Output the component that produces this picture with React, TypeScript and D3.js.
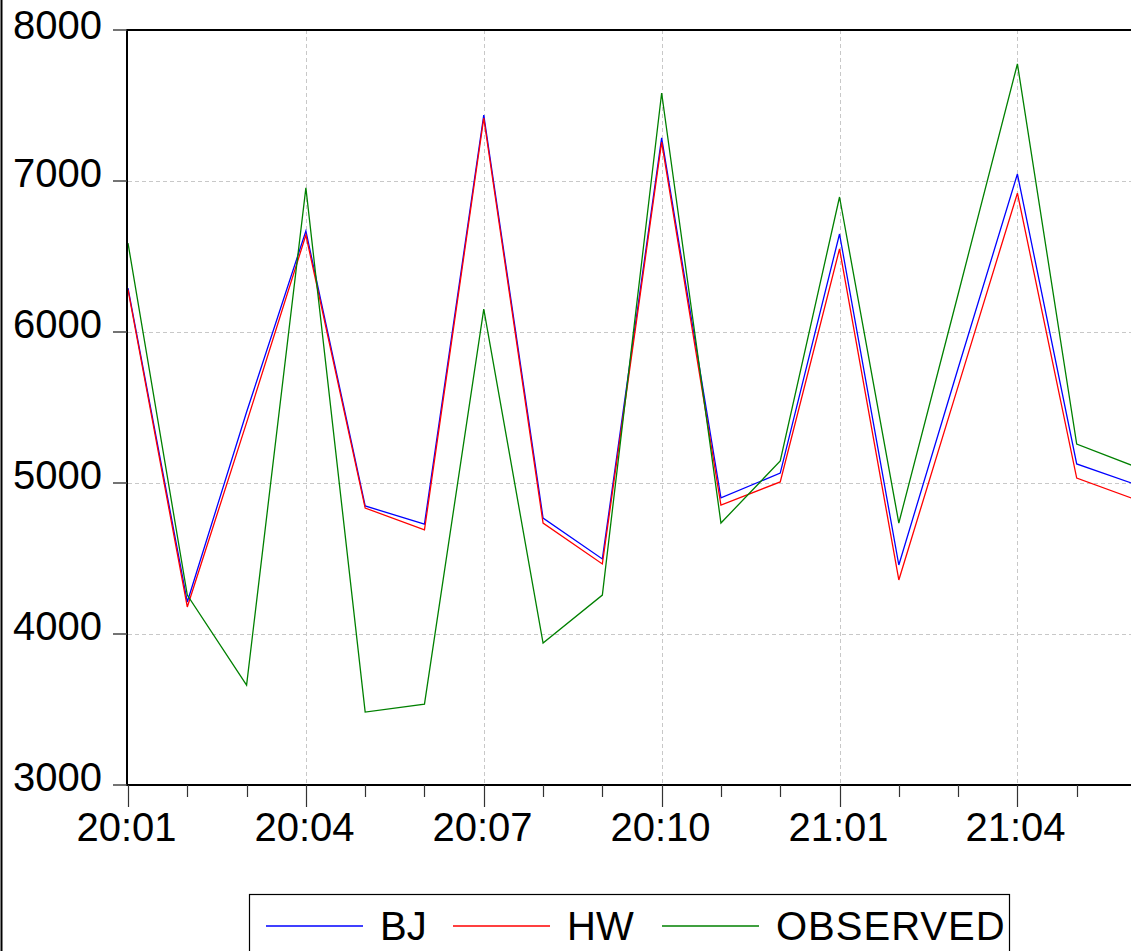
import React from 'react';
import * as d3 from 'd3';

const periods = [
  '20:01', '20:02', '20:03', '20:04', '20:05', '20:06', '20:07', '20:08', '20:09',
  '20:10', '20:11', '20:12', '21:01', '21:02', '21:03', '21:04', '21:05', '21:06',
];
const bj = [6291, 4212, 5470, 6669, 4848, 4728, 7437, 4768, 4497, 7285, 4901, 5066, 6649, 4457, 5760, 7046, 5126, 4989];
const hw = [6280, 4179, 5400, 6642, 4834, 4689, 7417, 4735, 4464, 7258, 4854, 5007, 6550, 4358, 5640, 6920, 5033, 4889];
const observed = [6589, 4258, 3662, 6954, 3483, 3536, 6152, 3940, 4258, 7583, 4735, 5146, 6894, 4735, 6250, 7775, 5258, 5106];
const yTicks = [3000, 4000, 5000, 6000, 7000, 8000];
const labelledPeriods = ['20:01', '20:04', '20:07', '20:10', '21:01', '21:04'];

const series = [
  { name: 'BJ', values: bj, color: '#0000ff' },
  { name: 'HW', values: hw, color: '#ff0000' },
  { name: 'OBSERVED', values: observed, color: '#008000' },
];

const W = 1131;
const H = 951;
const FONT = '"Liberation Sans", Arial, sans-serif';

export default function App() {
  const left = 128;
  const right = 1136;
  const top = 30;
  const bottom = 785;

  const x = d3.scalePoint<string>().domain(periods).range([left, right]);
  const y = d3.scaleLinear().domain([3000, 8000]).range([bottom, top]);

  const line = d3
    .line<number>()
    .x((_, i) => x(periods[i]) as number)
    .y((d) => y(d));

  // legend layout (line start, text start)
  const legendItems = [
    { lx: 266, tx: 380 },
    { lx: 453, tx: 567 },
    { lx: 662, tx: 776 },
  ];

  return (
    <div style={{ position: 'absolute', left: 0, top: 0 }}>
      <svg width={W} height={H} style={{ display: 'block', background: '#fff' }}>
        <defs>
          <clipPath id="plot">
            <rect x={left - 1} y={top} width={W - left + 20} height={bottom - top} />
          </clipPath>
        </defs>
        <rect x={0} y={0} width={W} height={H} fill="#fff" />
        <line x1={1.5} x2={1.5} y1={0} y2={H} stroke="#000" strokeWidth={2} />

        {/* grid */}
        <g stroke="#c8c8c8" strokeWidth={1} strokeDasharray="4,3">
          {yTicks
            .filter((t) => t !== 3000 && t !== 8000)
            .map((t) => (
              <line key={t} x1={left} x2={W} y1={Math.round(y(t)) + 0.5} y2={Math.round(y(t)) + 0.5} />
            ))}
          {labelledPeriods.slice(1).map((p) => (
            <line key={p} x1={Math.round(x(p) as number) + 0.5} x2={Math.round(x(p) as number) + 0.5} y1={top} y2={bottom} />
          ))}
        </g>

        {/* series */}
        <g clipPath="url(#plot)" fill="none" strokeWidth={1.3}>
          {series.map((s) => (
            <path key={s.name} d={line(s.values) as string} stroke={s.color} />
          ))}
        </g>

        {/* frame */}
        <line x1={left - 1} x2={W} y1={top} y2={top} stroke="#000" strokeWidth={2} />
        <line x1={left - 1} x2={left - 1} y1={top - 1} y2={bottom + 1} stroke="#000" strokeWidth={2} />
        <line x1={left - 1} x2={W} y1={bottom} y2={bottom} stroke="#000" strokeWidth={2} />

        {/* y axis */}
        {yTicks.map((t, i) => (
          <g key={t}>
            <line x1={113} x2={left - 1} y1={y(t)} y2={y(t)} stroke="#444" strokeWidth={1.5} />
            <text
              x={102}
              y={y(t) + (i === yTicks.length - 1 ? 9 : 6)}
              textAnchor="end"
              fontFamily={FONT}
              fontSize={40}
              fill="#000"
            >
              {t}
            </text>
          </g>
        ))}

        {/* x axis */}
        {periods.map((p) => {
          const major = labelledPeriods.includes(p);
          const px = Math.round(x(p) as number) + 0.5;
          return (
            <g key={p}>
              <line x1={px} x2={px} y1={bottom} y2={bottom + (major ? 22 : 12)} stroke="#333" strokeWidth={1.2} />
              {major && (
                <text x={px - 2} y={841} textAnchor="middle" fontFamily={FONT} fontSize={40} fill="#000">
                  {p}
                </text>
              )}
            </g>
          );
        })}

        {/* legend */}
        <rect x={249.5} y={894.5} width={760} height={80} fill="#fff" stroke="#000" strokeWidth={1.2} />
        {series.map((s, i) => (
          <g key={s.name}>
            <line x1={legendItems[i].lx} x2={legendItems[i].lx + 97} y1={926} y2={926} stroke={s.color} strokeWidth={1.3} />
            <text x={legendItems[i].tx} y={940} fontFamily={FONT} fontSize={40} fill="#000" letterSpacing={s.name === 'OBSERVED' ? 1 : 0}>
              {s.name}
            </text>
          </g>
        ))}
      </svg>
    </div>
  );
}
